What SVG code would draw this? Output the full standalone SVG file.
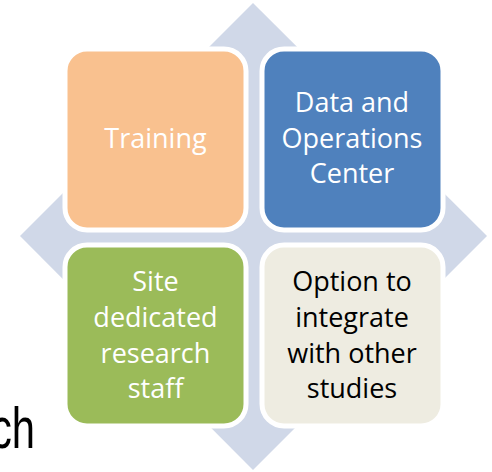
<svg xmlns="http://www.w3.org/2000/svg" width="492" height="472" viewBox="0 0 492 472">
<style>
.box{stroke:#fff;stroke-width:5}
.t{font-family:"Open Sans","Liberation Sans",sans-serif;font-size:27px;text-anchor:middle}
.w{fill:#fff}
.k{fill:#000}
</style>
<rect width="492" height="472" fill="#fff"/>
<g id="diamond"><polygon points="253,3 487,236 253,470 20,236" fill="#D0D8E8"/></g>
<text transform="translate(35,448) scale(0.72,1)" font-family="Liberation Sans, sans-serif" font-size="58" text-anchor="end" fill="#000">ch</text>
<g id="connectors"></g>
<g id="training"><rect class="box" x="65" y="49" width="181" height="181" rx="22" fill="#F9C18F"/>
<text class="t w" x="155.5" y="148">Training</text></g>
<g id="data"><rect class="box" x="262" y="49" width="181" height="181" rx="22" fill="#4F81BD"/>
<text class="t w" x="352" y="112">Data and</text><text class="t w" x="352" y="148">Operations</text><text class="t w" x="352" y="183">Center</text></g>
<g id="site"><rect class="box" x="65" y="245" width="181" height="181" rx="22" fill="#9BBB59"/>
<text class="t w" x="155.5" y="291">Site</text><text class="t w" x="155.5" y="327">dedicated</text><text class="t w" x="155.5" y="363">research</text><text class="t w" x="155.5" y="398">staff</text></g>
<g id="option"><rect class="box" x="262" y="245" width="181" height="181" rx="22" fill="#EEECE1"/>
<text class="t k" x="352" y="291">Option to</text><text class="t k" x="352" y="327">integrate</text><text class="t k" x="352" y="363">with other</text><text class="t k" x="352" y="398">studies</text></g>
</svg>
